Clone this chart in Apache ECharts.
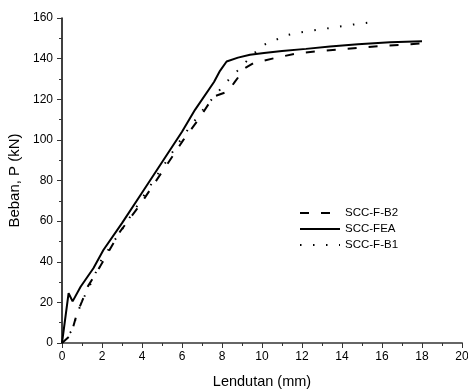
<!DOCTYPE html>
<html><head><meta charset="utf-8">
<script src="https://cdn.jsdelivr.net/npm/echarts@6/dist/echarts.min.js"></script>
<style>html,body{margin:0;padding:0;background:#fff}#c{width:468px;height:390px}</style>
</head><body><div id="c"></div>
<script>
var seriesNames = ['SCC-F-B2', 'SCC-FEA', 'SCC-F-B1'];
var xTicks = [0, 2, 4, 6, 8, 10, 12, 14, 16, 18, 20];
var yTicks = [0, 20, 40, 60, 80, 100, 120, 140, 160];
var b2 = [[0,0],[0.45,4],[0.73,14],[1.0,20.5],[1.3,28],[1.9,37.6],[2.9,54.8],[3.9,68],[5.07,85.2],[6.07,100],[6.87,110.7],[7.57,121.3],[8.3,123.8],[8.65,128.7],[9.15,135.3],[9.57,137.8],[10.6,140.2],[11.8,142.7],[12.9,143.7],[13.9,144.5],[15,145.5],[16,146.3],[17.1,146.8],[18,147.5]];
var fea = [[0,0],[0.33,24.5],[0.53,20.5],[0.93,27.7],[1.57,36.8],[2.07,45.8],[3,59],[4,74],[5,89],[6,104],[6.65,114.8],[7.6,128.5],[7.9,134],[8.23,138.6],[8.8,140.5],[9.4,141.9],[10.1,142.8],[11,143.8],[12.2,144.8],[13.4,146],[14.8,147.1],[16.4,148.1],[18,148.6]];
var b1 = [[0,0],[0.48,6],[0.95,19.5],[1.57,31.9],[1.9,39.8],[3,56],[4.8,83.3],[6.1,102.5],[7.07,115.1],[8.18,128],[8.78,134.1],[9.4,140.5],[9.98,146.3],[10.6,148.9],[11.3,151.7],[11.9,152.9],[12.57,153.9],[13.2,154.8],[13.85,155.8],[14.5,156.7],[15.15,157.5],[15.3,157.7]];

var chart = echarts.init(document.getElementById('c'), null, {renderer: 'canvas'});
var font = 'Liberation Sans, Arial, sans-serif';
chart.setOption({
  animation: false,
  backgroundColor: '#fff',
  grid: {left: 62, right: 6, top: 18, bottom: 47, containLabel: false, outerBoundsMode: 'none'},
  legend: {
    orient: 'vertical', left: 294, top: 202, itemWidth: 40, itemHeight: 12, itemGap: 4,
    itemStyle: {opacity: 0},
    textStyle: {fontFamily: font, fontSize: 11.5, color: '#000'},
    data: seriesNames
  },
  xAxis: {
    type: 'value', min: 0, max: 20, interval: 2,
    name: 'Lendutan (mm)', nameLocation: 'middle', nameGap: 31,
    nameTextStyle: {fontFamily: font, fontSize: 14.5, color: '#000'},
    axisLine: {lineStyle: {color: '#666', width: 2}},
    axisTick: {inside: false, length: 5, lineStyle: {color: '#333', width: 1}},
    minorTick: {show: true, splitNumber: 2, length: 3, lineStyle: {color: '#333'}},
    axisLabel: {fontFamily: font, fontSize: 12, color: '#000', margin: 8,
      formatter: function(v){ return xTicks.indexOf(v) >= 0 ? String(v) : ''; }},
    splitLine: {show: false}
  },
  yAxis: {
    type: 'value', min: 0, max: 160, interval: 20,
    name: 'Beban, P (kN)', nameLocation: 'middle', nameGap: 38, nameRotate: 90,
    nameTextStyle: {fontFamily: font, fontSize: 15, color: '#000'},
    axisLine: {show: true, lineStyle: {color: '#000', width: 1.5}},
    axisTick: {show: true, inside: false, length: 5, lineStyle: {color: '#333'}},
    minorTick: {show: true, splitNumber: 2, length: 3, lineStyle: {color: '#333'}},
    axisLabel: {fontFamily: font, fontSize: 12, color: '#000', margin: 9,
      formatter: function(v){ return yTicks.indexOf(v) >= 0 ? String(v) : ''; }},
    splitLine: {show: false}
  },
  series: [
    {name: seriesNames[0], type: 'line', data: b2, symbol: 'none', z: 3,
     lineStyle: {color: '#000', width: 2, type: [9, 12]}, itemStyle: {color: '#000'}},
    {name: seriesNames[1], type: 'line', data: fea, symbol: 'none', z: 4,
     lineStyle: {color: '#000', width: 2}, itemStyle: {color: '#000'}},
    {name: seriesNames[2], type: 'line', data: b1, symbol: 'none', z: 2,
     lineStyle: {color: '#000', width: 2, type: [1.5, 11.5]}, itemStyle: {color: '#000'}}
  ]
});
</script></body></html>
